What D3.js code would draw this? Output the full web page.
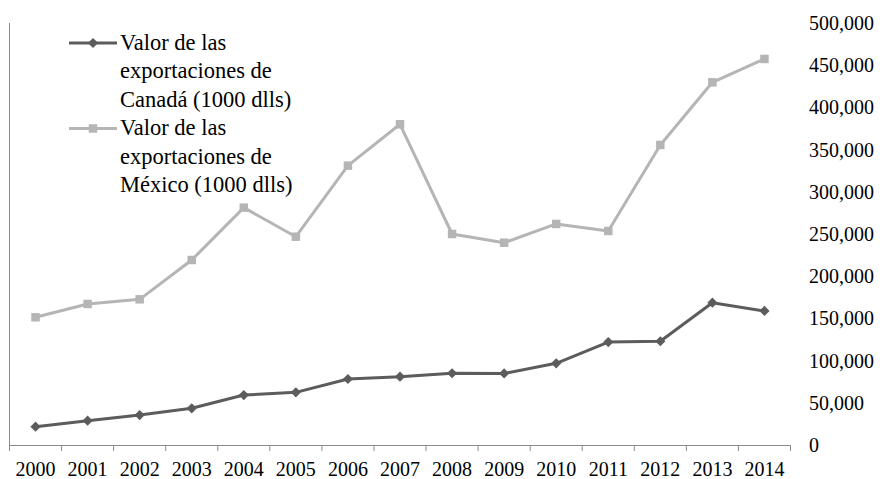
<!DOCTYPE html>
<html>
<head>
<meta charset="utf-8">
<script src="https://cdn.jsdelivr.net/npm/d3@7"></script>
<style>
  html, body { margin: 0; padding: 0; background: #fff; }
  svg { display: block; font-family: 'Liberation Serif'; }
  svg text { font-family: 'Liberation Serif'; fill: #000; }
</style>
</head>
<body>
<svg id="chart" width="887" height="479" font-family="Liberation Serif"></svg>
<script>
// Exports by year, in thousands of dollars
const years = ["2000","2001","2002","2003","2004","2005","2006","2007","2008","2009","2010","2011","2012","2013","2014"];
const canada = [21700, 28800, 35500, 43500, 59200, 62400, 78200, 80900, 85000, 84800, 96800, 122000, 122900, 168600, 158800];
const mexico = [151300, 167100, 172600, 219200, 281200, 246800, 331000, 380000, 250000, 239700, 261900, 253600, 355500, 429700, 457400];
const yTicks = [0, 50000, 100000, 150000, 200000, 250000, 300000, 350000, 400000, 450000, 500000];
const legendCanada = ["Valor de las", "exportaciones de", "Canadá (1000 dlls)"];
const legendMexico = ["Valor de las", "exportaciones de", "México (1000 dlls)"];

const svg = d3.select("#chart");
const FONT = "Liberation Serif";
const axisColor = "#8c8c8c";
const canadaColor = "#5c5c5c";
const mexicoColor = "#b5b5b5";

const x = d3.scaleBand().domain(years).range([9.5, 790.5]).padding(0);
const y = d3.scaleLinear().domain([0, 500000]).range([445, 23]);

// Left vertical rule
svg.append("line")
  .attr("x1", x.range()[0]).attr("x2", x.range()[0])
  .attr("y1", y(500000)).attr("y2", y(0))
  .attr("stroke", axisColor).attr("stroke-width", 1);

// Category axis: baseline, boundary ticks, centred year labels
svg.append("line")
  .attr("x1", x.range()[0]).attr("x2", x.range()[1])
  .attr("y1", y(0) + 0.5).attr("y2", y(0) + 0.5)
  .attr("stroke", axisColor).attr("stroke-width", 1);

const bounds = years.map(d => x(d)).concat([x.range()[1]]);
svg.append("g").selectAll("line").data(bounds).join("line")
  .attr("x1", d => d).attr("x2", d => d)
  .attr("y1", y(0)).attr("y2", y(0) + 6)
  .attr("stroke", axisColor).attr("stroke-width", 1);

const xAxis = svg.append("g")
  .attr("transform", `translate(0,${y(0)})`)
  .call(d3.axisBottom(x).tickSize(0).tickPadding(17))
  .attr("font-family", FONT).attr("font-size", 20);
xAxis.select(".domain").remove();
xAxis.selectAll("text").attr("fill", "#000");

// Value axis labels on the right
const yAxis = svg.append("g")
  .attr("transform", "translate(800,0)")
  .call(d3.axisRight(y).tickValues(yTicks).tickSize(0).tickPadding(9).tickFormat(d3.format(",")))
  .attr("font-family", FONT).attr("font-size", 20);
yAxis.select(".domain").remove();
yAxis.selectAll("text").attr("fill", "#000");

const cx = d => x(d) + x.bandwidth() / 2;
const line = d3.line().x((d, i) => cx(years[i])).y(d => y(d));

// Mexico series
svg.append("path").datum(mexico)
  .attr("d", line).attr("fill", "none")
  .attr("stroke", mexicoColor).attr("stroke-width", 3).attr("stroke-linejoin", "round");
svg.append("g").selectAll("path").data(mexico).join("path")
  .attr("d", d3.symbol(d3.symbolSquare, 72))
  .attr("transform", (d, i) => `translate(${cx(years[i])},${y(d)})`)
  .attr("fill", mexicoColor);

// Canada series
svg.append("path").datum(canada)
  .attr("d", line).attr("fill", "none")
  .attr("stroke", canadaColor).attr("stroke-width", 3).attr("stroke-linejoin", "round");
svg.append("g").selectAll("path").data(canada).join("path")
  .attr("d", d3.symbol(d3.symbolSquare, 52))
  .attr("transform", (d, i) => `translate(${cx(years[i])},${y(d)}) rotate(45)`)
  .attr("fill", canadaColor);

// Legend
function legendEntry(lines, color, rowY, rotate, size) {
  const g = svg.append("g").attr("font-family", FONT).attr("font-size", 22.5);
  g.append("line").attr("x1", 69).attr("x2", 117).attr("y1", rowY).attr("y2", rowY)
    .attr("stroke", color).attr("stroke-width", 3);
  g.append("path").attr("d", d3.symbol(d3.symbolSquare, size))
    .attr("transform", `translate(93,${rowY})${rotate ? " rotate(45)" : ""}`)
    .attr("fill", color);
  g.selectAll("text").data(lines).join("text")
    .attr("x", 120).attr("y", (d, i) => rowY + 6.5 + i * 28.5)
    .text(d => d);
}
legendEntry(legendCanada, canadaColor, 43, true, 52);
legendEntry(legendMexico, mexicoColor, 128.5, false, 72);
</script>
</body>
</html>
